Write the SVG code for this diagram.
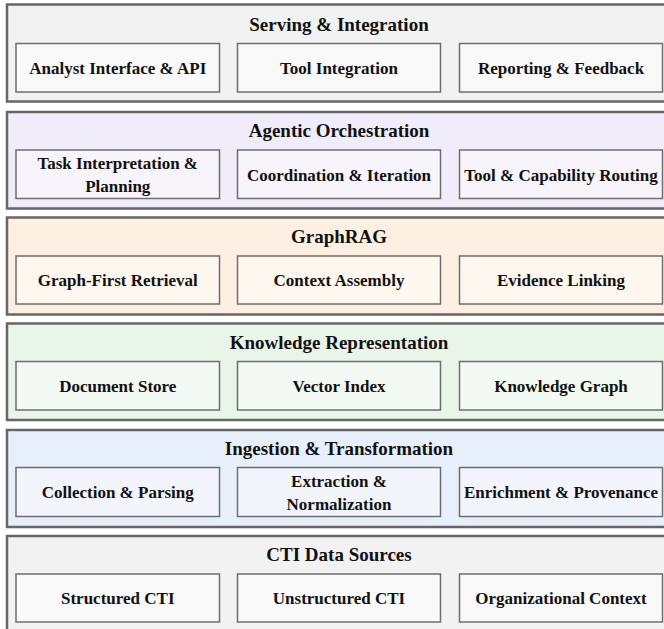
<svg xmlns="http://www.w3.org/2000/svg" width="664" height="629" viewBox="0 0 664 629">
<style>
.layer{stroke:#666;stroke-width:2.5}
.box{stroke:#6e6e6e;stroke-width:1.5}
.t{font-family:"Liberation Serif","Times New Roman",serif;font-weight:bold;fill:#111;text-anchor:middle}
.title{font-size:19px}
.lbl{font-size:17px}
.g1{fill:#f2f2f2}.b1{fill:#f9f9f9}
.g2{fill:#f1ecf9}.b2{fill:#f7f4fc}
.g3{fill:#fdf0e3}.b3{fill:#fef7f0}
.g4{fill:#eaf5ea}.b4{fill:#f3f9f3}
.g5{fill:#e7f0fa}.b5{fill:#f2f6fc}
</style>
<rect width="664" height="629" fill="#ffffff"/>

<g id="layer-serving">
<rect class="layer g1" x="7" y="4.5" width="665" height="97"/>
<text class="t title" x="339" y="31">Serving &amp; Integration</text>
<g id="analyst-interface"><rect class="box b1" x="16" y="43.5" width="203.5" height="48.5"/><text class="t lbl" x="117.75" y="74">Analyst Interface &amp; API</text></g>
<g id="tool-integration"><rect class="box b1" x="237.5" y="43.5" width="203" height="48.5"/><text class="t lbl" x="339" y="74">Tool Integration</text></g>
<g id="reporting-feedback"><rect class="box b1" x="459.5" y="43.5" width="203" height="48.5"/><text class="t lbl" x="561" y="74">Reporting &amp; Feedback</text></g>
</g>

<g id="layer-agentic">
<rect class="layer g2" x="7" y="112" width="665" height="96.5"/>
<text class="t title" x="339" y="137">Agentic Orchestration</text>
<g id="task-interpretation"><rect class="box b2" x="16" y="150" width="203.5" height="48.5"/><text class="t lbl" x="117.75" y="168.5">Task Interpretation &amp;</text><text class="t lbl" x="117.75" y="191.5">Planning</text></g>
<g id="coordination"><rect class="box b2" x="237.5" y="150" width="203" height="48.5"/><text class="t lbl" x="339" y="180.5">Coordination &amp; Iteration</text></g>
<g id="tool-routing"><rect class="box b2" x="459.5" y="150" width="203" height="48.5"/><text class="t lbl" x="561" y="180.5">Tool &amp; Capability Routing</text></g>
</g>

<g id="layer-graphrag">
<rect class="layer g3" x="7" y="217.5" width="665" height="97"/>
<text class="t title" x="339" y="243.3">GraphRAG</text>
<g id="graph-first-retrieval"><rect class="box b3" x="16" y="256" width="203.5" height="48"/><text class="t lbl" x="117.75" y="286.3">Graph-First Retrieval</text></g>
<g id="context-assembly"><rect class="box b3" x="237.5" y="256" width="203" height="48"/><text class="t lbl" x="339" y="286.3">Context Assembly</text></g>
<g id="evidence-linking"><rect class="box b3" x="459.5" y="256" width="203" height="48"/><text class="t lbl" x="561" y="286.3">Evidence Linking</text></g>
</g>

<g id="layer-knowledge">
<rect class="layer g4" x="7" y="323.5" width="665" height="96.5"/>
<text class="t title" x="339" y="348.5">Knowledge Representation</text>
<g id="document-store"><rect class="box b4" x="16" y="361.5" width="203.5" height="48.5"/><text class="t lbl" x="117.75" y="392">Document Store</text></g>
<g id="vector-index"><rect class="box b4" x="237.5" y="361.5" width="203" height="48.5"/><text class="t lbl" x="339" y="392">Vector Index</text></g>
<g id="knowledge-graph"><rect class="box b4" x="459.5" y="361.5" width="203" height="48.5"/><text class="t lbl" x="561" y="392">Knowledge Graph</text></g>
</g>

<g id="layer-ingestion">
<rect class="layer g5" x="7" y="430" width="665" height="97"/>
<text class="t title" x="339" y="455">Ingestion &amp; Transformation</text>
<g id="collection-parsing"><rect class="box b5" x="16" y="467.5" width="203.5" height="49"/><text class="t lbl" x="117.75" y="498.3">Collection &amp; Parsing</text></g>
<g id="extraction-normalization"><rect class="box b5" x="237.5" y="467.5" width="203" height="49"/><text class="t lbl" x="339" y="486.5">Extraction &amp;</text><text class="t lbl" x="339" y="509.5">Normalization</text></g>
<g id="enrichment-provenance"><rect class="box b5" x="459.5" y="467.5" width="203" height="49"/><text class="t lbl" x="561" y="498.3">Enrichment &amp; Provenance</text></g>
</g>

<g id="layer-sources">
<rect class="layer g1" x="7" y="536" width="665" height="100"/>
<text class="t title" x="339" y="561">CTI Data Sources</text>
<g id="structured-cti"><rect class="box b1" x="16" y="574" width="203.5" height="48"/><text class="t lbl" x="117.75" y="604.3">Structured CTI</text></g>
<g id="unstructured-cti"><rect class="box b1" x="237.5" y="574" width="203" height="48"/><text class="t lbl" x="339" y="604.3">Unstructured CTI</text></g>
<g id="organizational-context"><rect class="box b1" x="459.5" y="574" width="203" height="48"/><text class="t lbl" x="561" y="604.3">Organizational Context</text></g>
</g>
</svg>
